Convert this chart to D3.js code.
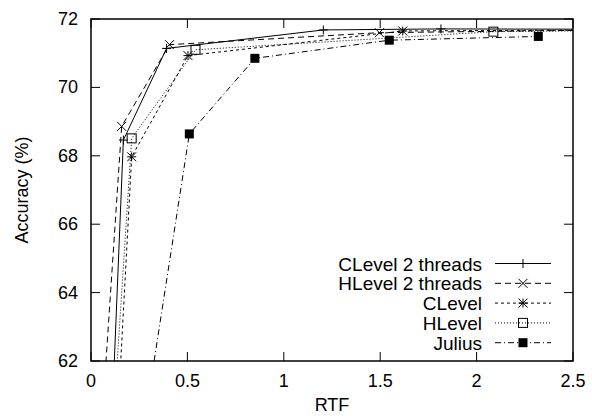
<!DOCTYPE html>
<html>
  <head>
    <meta charset="utf-8">
    <title>RTF vs Accuracy</title>
    <style>
      body { margin: 0; background: #fff; }
      svg { display: block; }
      text { font-family: "Liberation Sans", Arial, sans-serif; font-size: 18px; fill: #000; }
      .legend text { font-size: 19px; }
    </style>
    <script src="https://d3js.org/d3.v7.min.js"></script>
  </head>
  <body>
    <svg id="chart" width="592" height="416"></svg>
    <script>
      // series names (legend order)
      var seriesNames = ["CLevel 2 threads", "HLevel 2 threads", "CLevel", "HLevel", "Julius"];

      // [RTF, accuracy] per series; first and last points fall outside the axes and get clipped
      var clevel2 = [[0.11, 60.5], [0.168, 68.46], [0.392, 71.14], [1.205, 71.68], [1.815, 71.71], [2.7, 71.7]];
      var hlevel2 = [[0.06, 60.5], [0.159, 68.86], [0.407, 71.25], [1.496, 71.6], [2.7, 71.68]];
      var clevel  = [[0.14, 60.5], [0.211, 67.97], [0.503, 70.93], [1.617, 71.65], [2.7, 71.68]];
      var hlevel  = [[0.119, 60.5], [0.211, 68.51], [0.542, 71.1], [2.087, 71.63], [2.7, 71.66]];
      var julius  = [[0.286, 60.5], [0.51, 68.64], [0.85, 70.85], [1.547, 71.38], [2.32, 71.49]];

      var xTicks = [0, 0.5, 1, 1.5, 2, 2.5];
      var yTicks = [62, 64, 66, 68, 70, 72];

      var allSeries = [clevel2, hlevel2, clevel, hlevel, julius];
      var dashes = ["none", "6,4", "3,3", "1,2", "6,3,1,3"];
      var markers = ["plus", "cross", "star", "box", "fbox"];

      (function() {
        var pLeft = 91, pRight = 573, pTop = 19, pBottom = 361;
        var svg = d3.select("#chart");

        var x = d3.scaleLinear().domain([0, 2.5]).range([pLeft, pRight]);
        var y = d3.scaleLinear().domain([62, 72]).range([pBottom, pTop]);

        svg.append("clipPath").attr("id", "clip")
           .append("rect")
           .attr("x", pLeft).attr("y", pTop)
           .attr("width", pRight - pLeft).attr("height", pBottom - pTop);

        // ticks, inside on all four sides
        var tickLen = 9;
        var axes = svg.append("g").attr("stroke", "#000").attr("stroke-width", 1);
        xTicks.forEach(function(t) {
          axes.append("line").attr("x1", x(t)).attr("x2", x(t)).attr("y1", pBottom).attr("y2", pBottom - tickLen);
          axes.append("line").attr("x1", x(t)).attr("x2", x(t)).attr("y1", pTop).attr("y2", pTop + tickLen);
        });
        yTicks.forEach(function(t) {
          axes.append("line").attr("x1", pLeft).attr("x2", pLeft + tickLen).attr("y1", y(t)).attr("y2", y(t));
          axes.append("line").attr("x1", pRight).attr("x2", pRight - tickLen).attr("y1", y(t)).attr("y2", y(t));
        });

        svg.selectAll(".xlab").data(xTicks).enter().append("text")
           .attr("x", function(d) { return x(d); })
           .attr("y", 387)
           .attr("text-anchor", "middle")
           .text(function(d) { return d; });

        svg.selectAll(".ylab").data(yTicks).enter().append("text")
           .attr("x", 78)
           .attr("y", function(d) { return y(d) + 6; })
           .attr("text-anchor", "end")
           .text(function(d) { return d; });

        svg.append("text").attr("x", (pLeft + pRight) / 2).attr("y", 411)
           .attr("text-anchor", "middle").text("RTF");

        svg.append("text")
           .attr("transform", "translate(28," + ((pTop + pBottom) / 2) + ") rotate(-90)")
           .attr("text-anchor", "middle").text("Accuracy (%)");

        var line = d3.line()
                     .x(function(d) { return x(d[0]); })
                     .y(function(d) { return y(d[1]); });

        function drawMarker(g, type, cx, cy) {
          var s = 4.5;
          if (type == "plus" || type == "star") {
            g.append("path").attr("d", "M" + (cx - s) + "," + cy + "H" + (cx + s) + "M" + cx + "," + (cy - s) + "V" + (cy + s))
             .attr("stroke", "#000").attr("fill", "none");
          }
          if (type == "cross" || type == "star") {
            g.append("path").attr("d", "M" + (cx - s) + "," + (cy - s) + "L" + (cx + s) + "," + (cy + s) +
                                       "M" + (cx - s) + "," + (cy + s) + "L" + (cx + s) + "," + (cy - s))
             .attr("stroke", "#000").attr("fill", "none");
          }
          if (type == "box") {
            g.append("rect").attr("x", cx - s).attr("y", cy - s).attr("width", 2 * s).attr("height", 2 * s)
             .attr("stroke", "#000").attr("fill", "none");
          }
          if (type == "fbox") {
            g.append("rect").attr("x", cx - s).attr("y", cy - s).attr("width", 2 * s).attr("height", 2 * s)
             .attr("fill", "#000");
          }
        }

        var plot = svg.append("g").attr("clip-path", "url(#clip)");
        allSeries.forEach(function(data, i) {
          plot.append("path").datum(data)
              .attr("d", line)
              .attr("fill", "none")
              .attr("stroke", "#000")
              .attr("stroke-width", 1)
              .attr("stroke-dasharray", dashes[i]);
          data.forEach(function(d) {
            drawMarker(plot, markers[i], x(d[0]), y(d[1]));
          });
        });

        // legend
        var legend = svg.append("g").attr("class", "legend");
        seriesNames.forEach(function(name, i) {
          var ly = 263.5 + i * 19.8;
          legend.append("text").attr("x", 482).attr("y", ly + 7).attr("text-anchor", "end").text(name);
          legend.append("line").attr("x1", 495).attr("x2", 551).attr("y1", ly).attr("y2", ly)
                .attr("stroke", "#000").attr("stroke-dasharray", dashes[i]);
          drawMarker(legend, markers[i], 523, ly);
        });

        // frame
        svg.append("rect").attr("x", pLeft).attr("y", pTop)
           .attr("width", pRight - pLeft).attr("height", pBottom - pTop)
           .attr("fill", "none").attr("stroke", "#000").attr("stroke-width", 1.5);
      })();
    </script>
  </body>
</html>
